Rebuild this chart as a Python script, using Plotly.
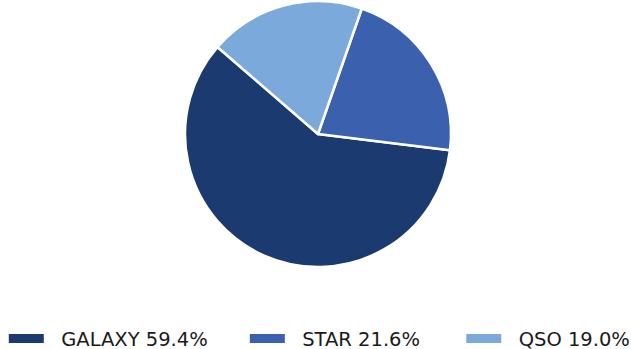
import plotly.graph_objects as go

categories = ["GALAXY", "STAR", "QSO"]
shares = [59.4, 21.6, 19.0]
colors = ["#1b3a6f", "#3b60ae", "#7ba9dc"]

legend_x = [0.006, 0.388, 0.731]

fig = go.Figure()
fig.add_trace(go.Pie(
    labels=categories,
    values=shares,
    sort=False,
    direction="counterclockwise",
    rotation=97,
    marker=dict(colors=colors, line=dict(color="white", width=2.5)),
    textinfo="none",
    hoverinfo="label+percent",
    showlegend=False,
    domain=dict(x=[0.2932, 0.7147], y=[0.235, 0.997]),
))

for i, (cat, val, col) in enumerate(zip(categories, shares, colors)):
    fig.add_trace(go.Scatter(
        x=[None], y=[None], mode="lines",
        line=dict(color=col, width=9),
        name=f"\u00a0\u00a0{cat} {val:.1f}%",
        legend="legend" if i == 0 else f"legend{i+1}",
        showlegend=True,
        hoverinfo="skip",
    ))

leg_common = dict(
    xref="paper", yref="paper", y=0.029, yanchor="middle", xanchor="left",
    orientation="h", bgcolor="rgba(0,0,0,0)", borderwidth=0,
    font=dict(family="DejaVu Sans", size=19.5, color="#1a1a1a"),
    itemwidth=35,
)
fig.update_layout(
    width=631, height=349,
    margin=dict(l=0, r=0, t=0, b=0, autoexpand=False),
    paper_bgcolor="white", plot_bgcolor="white",
    xaxis=dict(visible=False), yaxis=dict(visible=False),
    legend=dict(x=legend_x[0], **leg_common),
    legend2=dict(x=legend_x[1], **leg_common),
    legend3=dict(x=legend_x[2], **leg_common),
)
fig.write_html("out.html", config={"displayModeBar": False},
               post_script="document.body.style.margin='0px';")
